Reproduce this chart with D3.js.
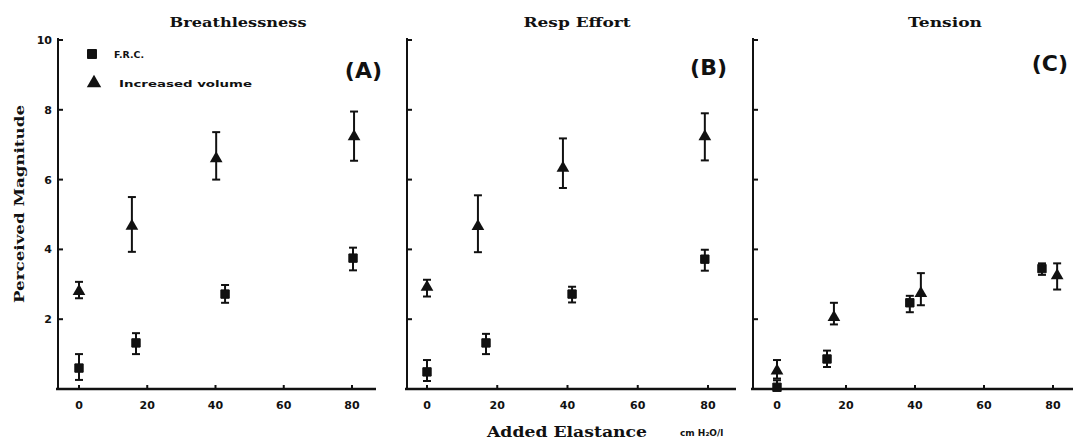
<!DOCTYPE html>
<html>
<head>
<meta charset="utf-8">
<script src="https://cdn.jsdelivr.net/npm/d3@7"></script>
<style>
  body { margin: 0; background: #fff; }
  svg { display: block; }
  text { fill: #111; }
</style>
</head>
<body>
<div id="chart"></div>
<script>
// Panel names and tags
var panelTitles = ["Breathlessness", "Resp Effort", "Tension"];
var panelTags = ["(A)", "(B)", "(C)"];
var xTicks = [0, 20, 40, 60, 80];
var yTicks = [2, 4, 6, 8, 10];

// F.R.C. (squares): added elastance, mean, upper, lower
var frcX  = [[0, 16.7, 42.8, 80.3], [0, 16.8, 41.3, 79.1], [0, 14.5, 38.5, 76.8]];
var frcY  = [[0.6, 1.32, 2.72, 3.75], [0.49, 1.32, 2.72, 3.72], [0.05, 0.86, 2.47, 3.45]];
var frcHi = [[1.0, 1.6, 2.98, 4.05], [0.83, 1.58, 2.93, 3.99], [0.25, 1.1, 2.67, 3.6]];
var frcLo = [[0.26, 1.0, 2.47, 3.4], [0.23, 1.0, 2.48, 3.39], [0, 0.63, 2.2, 3.27]];

// Increased volume (triangles)
var volX  = [[0, 15.5, 40.2, 80.6], [0, 14.5, 38.7, 79.1], [0, 16.5, 41.7, 81.2]];
var volY  = [[2.8, 4.67, 6.6, 7.23], [2.92, 4.66, 6.33, 7.23], [0.52, 2.05, 2.74, 3.25]];
var volHi = [[3.07, 5.5, 7.36, 7.95], [3.13, 5.55, 7.18, 7.9], [0.83, 2.47, 3.32, 3.6]];
var volLo = [[2.6, 3.93, 6.0, 6.54], [2.65, 3.92, 5.76, 6.55], [0.3, 1.85, 2.4, 2.85]];

var W = 1073, H = 444;
var svg = d3.select("#chart").append("svg").attr("width", W).attr("height", H);

// layout of each panel: y axis x, pixel of 0 and 80, right end
var layout = [
  {axis: 58, x0: 79, x80: 352, end: 376},
  {axis: 407, x0: 427, x80: 708, end: 736},
  {axis: 753, x0: 777, x80: 1053, end: 1073}
];
var y = d3.scaleLinear().domain([0, 10]).range([389, 40]);

var serif = "'DejaVu Serif', serif";
var sans = "'DejaVu Sans', sans-serif";

layout.forEach(function(L, i) {
  var x = d3.scaleLinear().domain([0, 80]).range([L.x0, L.x80]);
  var g = svg.append("g");

  // axes lines
  g.append("line").attr("x1", L.axis).attr("x2", L.axis)
    .attr("y1", y(10) - 2).attr("y2", y(0) + 1)
    .attr("stroke", "#111").attr("stroke-width", 2);
  g.append("line").attr("x1", L.axis - 2).attr("x2", L.end)
    .attr("y1", y(0)).attr("y2", y(0))
    .attr("stroke", "#111").attr("stroke-width", 2.5);

  // y ticks (inward)
  g.selectAll(".yt").data(yTicks).enter().append("line")
    .attr("x1", L.axis).attr("x2", L.axis + 5)
    .attr("y1", function(d){ return y(d); }).attr("y2", function(d){ return y(d); })
    .attr("stroke", "#111").attr("stroke-width", 2);
  // x ticks (inward)
  g.selectAll(".xt").data(xTicks).enter().append("line")
    .attr("x1", function(d){ return x(d); }).attr("x2", function(d){ return x(d); })
    .attr("y1", y(0)).attr("y2", y(0) - 4)
    .attr("stroke", "#111").attr("stroke-width", 2);

  g.selectAll(".xl").data(xTicks).enter().append("text")
    .attr("x", function(d){ return x(d); }).attr("y", 409)
    .attr("text-anchor", "middle")
    .style("font-family", sans).style("font-weight", "bold").style("font-size", "11px")
    .text(function(d){ return d; });

  if (i === 0) {
    g.selectAll(".yl").data(yTicks).enter().append("text")
      .attr("x", L.axis - 6).attr("y", function(d){ return y(d) + 4; })
      .attr("text-anchor", "end")
      .style("font-family", sans).style("font-weight", "bold").style("font-size", "11px")
      .text(function(d){ return d; });
  }

  // titles
  var tw = [137, 107, 74][i];
  g.append("text").attr("x", [238, 577, 945][i]).attr("y", 27)
    .attr("text-anchor", "middle")
    .attr("textLength", tw).attr("lengthAdjust", "spacingAndGlyphs")
    .style("font-family", serif).style("font-weight", "bold").style("font-size", "12px")
    .text(panelTitles[i]);

  g.append("text").attr("x", [382, 727, 1068][i]).attr("y", [78, 75, 71][i])
    .attr("text-anchor", "end")
    .style("font-family", sans).style("font-weight", "bold").style("font-size", "22px")
    .text(panelTags[i]);

  // error bars
  function bars(xs, hi, lo, cls) {
    var d = xs[i].map(function(v, k){ return {x: v, hi: hi[i][k], lo: lo[i][k]}; });
    var eb = g.selectAll("." + cls).data(d).enter().append("g");
    eb.append("line").attr("x1", function(d){ return x(d.x); }).attr("x2", function(d){ return x(d.x); })
      .attr("y1", function(d){ return y(d.hi); }).attr("y2", function(d){ return y(d.lo); })
      .attr("stroke", "#111").attr("stroke-width", 2);
    [ "hi", "lo" ].forEach(function(k) {
      eb.append("line").attr("x1", function(d){ return x(d.x) - 4; }).attr("x2", function(d){ return x(d.x) + 4; })
        .attr("y1", function(d){ return y(d[k]); }).attr("y2", function(d){ return y(d[k]); })
        .attr("stroke", "#111").attr("stroke-width", 2);
    });
  }
  bars(frcX, frcHi, frcLo, "ebf");
  bars(volX, volHi, volLo, "ebv");

  var sq = d3.symbol().type(d3.symbolSquare).size(70);
  var tri = d3.symbol().type(d3.symbolTriangle).size(70);
  g.selectAll(".frc").data(frcX[i].map(function(v, k){ return [v, frcY[i][k]]; }))
    .enter().append("path").attr("d", sq)
    .attr("transform", function(d){ return "translate(" + x(d[0]) + "," + y(d[1]) + ")"; })
    .attr("fill", "#111").attr("stroke", "#111").attr("stroke-width", 1).attr("stroke-linejoin", "round");
  g.selectAll(".vol").data(volX[i].map(function(v, k){ return [v, volY[i][k]]; }))
    .enter().append("path").attr("d", tri)
    .attr("transform", function(d){ return "translate(" + x(d[0]) + "," + y(d[1]) + ")"; })
    .attr("fill", "#111");
});

// legend
var leg = svg.append("g");
leg.append("path").attr("d", d3.symbol().type(d3.symbolSquare).size(80))
  .attr("transform", "translate(92,54)").attr("fill", "#111")
  .attr("stroke", "#111").attr("stroke-linejoin", "round");
leg.append("path").attr("d", d3.symbol().type(d3.symbolTriangle).size(90))
  .attr("transform", "translate(94,83)").attr("fill", "#111");
leg.append("text").attr("x", 114).attr("y", 58)
  .attr("textLength", 30).attr("lengthAdjust", "spacingAndGlyphs")
  .style("font-family", sans).style("font-weight", "bold").style("font-size", "9px")
  .text("F.R.C.");
leg.append("text").attr("x", 119).attr("y", 87)
  .attr("textLength", 133).attr("lengthAdjust", "spacingAndGlyphs")
  .style("font-family", sans).style("font-weight", "bold").style("font-size", "9px")
  .text("Increased volume");

// axis titles
svg.append("text").attr("transform", "translate(24,204) rotate(-90)")
  .attr("text-anchor", "middle")
  .attr("textLength", 198).attr("lengthAdjust", "spacingAndGlyphs")
  .style("font-family", serif).style("font-weight", "bold").style("font-size", "12px")
  .text("Perceived Magnitude");
svg.append("text").attr("x", 487).attr("y", 437)
  .attr("textLength", 160).attr("lengthAdjust", "spacingAndGlyphs")
  .style("font-family", serif).style("font-weight", "bold").style("font-size", "14px")
  .text("Added Elastance");
svg.append("text").attr("x", 680).attr("y", 436)
  .style("font-family", sans).style("font-weight", "bold").style("font-size", "9px")
  .text("cm H\u2082O/l");
</script>
</body>
</html>
